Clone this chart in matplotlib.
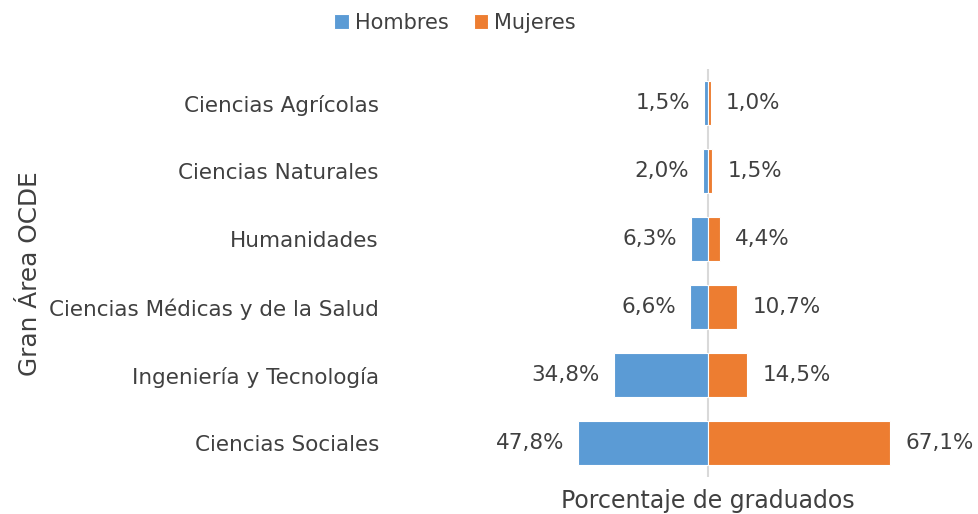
import numpy as np
import matplotlib.pyplot as plt

plt.rcParams['font.family'] = ['DejaVu Sans']

categories = ['Ciencias Sociales', 'Ingeniería y Tecnología', 'Ciencias Médicas y de la Salud',
              'Humanidades', 'Ciencias Naturales', 'Ciencias Agrícolas']
hombres = [47.8, 34.8, 6.6, 6.3, 2.0, 1.5]
mujeres = [67.1, 14.5, 10.7, 4.4, 1.5, 1.0]

blue = '#5B9BD5'
orange = '#ED7D31'
txt = '#404040'

fig = plt.figure(figsize=(9.79, 5.14), dpi=100)
ax = fig.add_axes([390 / 979, 37 / 514, 585 / 979, 408 / 514])

y = np.arange(len(categories))
ax.barh(y, [-v for v in hombres], height=0.66, color=blue, edgecolor='white', linewidth=0.8, label='Hombres')
ax.barh(y, mujeres, height=0.66, color=orange, edgecolor='white', linewidth=0.8, label='Mujeres')
ax.axvline(0, color='#D9D9D9', lw=1.5, zorder=0)

for i, (h, m) in enumerate(zip(hombres, mujeres)):
    ax.annotate(f'{h:.1f}%'.replace('.', ','), (-h, i), xytext=(-10, 0), textcoords='offset points',
                ha='right', va='center', fontsize=15.5, color=txt, annotation_clip=False)
    ax.annotate(f'{m:.1f}%'.replace('.', ','), (m, i), xytext=(11, 0), textcoords='offset points',
                ha='left', va='center', fontsize=15.5, color=txt, annotation_clip=False)

ax.set_xlim(-117.1, 98.3)
ax.set_ylim(-0.5, len(categories) - 0.5)
ax.set_yticks(y)
ax.set_yticklabels(categories, fontsize=15.5, color=txt)
ax.tick_params(axis='y', length=0, pad=8)
ax.set_xticks([])
for s in ax.spines.values():
    s.set_visible(False)

fig.text(30 / 979, 1 - 274 / 514, 'Gran Área OCDE', rotation=90, ha='center', va='center',
         fontsize=17.8, color=txt)
fig.text(708 / 979, 1 - 501 / 514, 'Porcentaje de graduados', ha='center', va='center',
         fontsize=17, color=txt)

fig.legend(loc='center', bbox_to_anchor=(455 / 979, 1 - 23 / 514), ncol=2, frameon=False,
           fontsize=15, handlelength=0.7, handleheight=0.7, handletextpad=0.3, columnspacing=1.2,
           labelcolor=txt)

fig.savefig('out.png', dpi=100)
